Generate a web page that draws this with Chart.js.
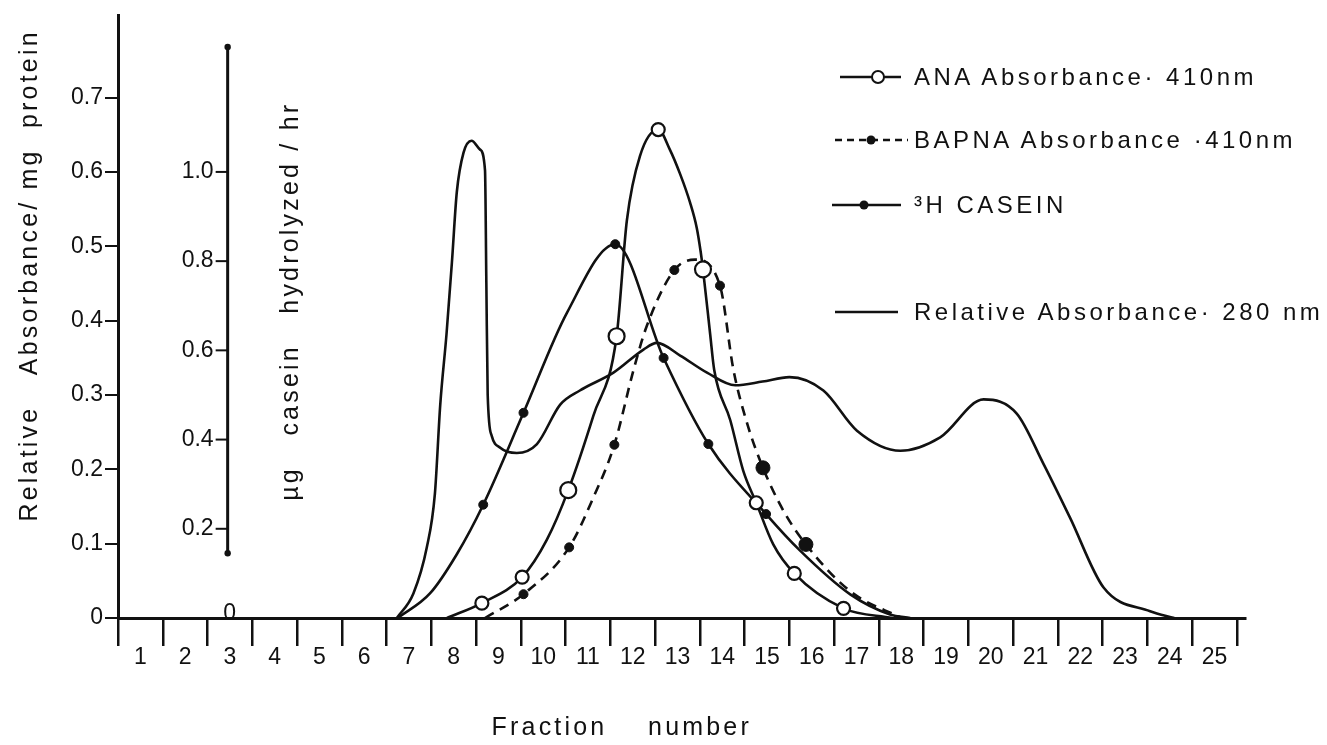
<!DOCTYPE html>
<html>
<head>
<meta charset="utf-8">
<script src="https://cdn.jsdelivr.net/npm/chart.js@4"></script>
<style>
  body { margin: 0; background: #fff; }
  #wrap { position: relative; width: 1327px; height: 745px; }
  #legend { position: absolute; left: 830px; top: 0; font-family: "Liberation Sans", Arial, sans-serif; font-size: 24px; letter-spacing: 3.5px; color: #111; }
  #legend .row { position: absolute; left: 0; height: 30px; display: flex; align-items: center; white-space: nowrap; }
  #legend svg { flex: none; }
</style>
</head>
<body>
<div id="wrap">
  <canvas id="chart" width="1327" height="745"></canvas>
  <div id="legend"></div>
</div>
<script>
const ink = '#111';
const family = '"Liberation Sans", Arial, sans-serif';

// x axis: fraction numbers, y axes: absorbance and casein hydrolyzed
const fractions = [1, 2, 3, 4, 5, 6, 7, 8, 9, 10, 11, 12, 13, 14, 15, 16, 17, 18, 19, 20, 21, 22, 23, 24, 25];
const absTicks = [0, 0.1, 0.2, 0.3, 0.4, 0.5, 0.6, 0.7];
const caseinTicks = [0.2, 0.4, 0.6, 0.8, 1.0];

// ANA absorbance at 410 nm (dots: 0 = curve only, 1 = measured, 2 = large marker)
const anaX = [7.85, 8.63, 9.53, 10.08, 10.56, 11.12, 11.64, 11.87, 12.16, 12.57, 12.83, 13.06, 13.28, 13.43, 13.52, 13.57, 13.73, 13.82, 14.18, 14.47, 14.76, 15.14, 15.61, 16.71, 17.8];
const anaY = [0, 0.020, 0.055, 0.105, 0.172, 0.272, 0.379, 0.535, 0.621, 0.657, 0.630, 0.597, 0.559, 0.525, 0.492, 0.469, 0.382, 0.334, 0.266, 0.198, 0.155, 0.099, 0.060, 0.013, 0];
const anaDots = [0, 1, 1, 0, 2, 0, 2, 0, 0, 1, 0, 0, 0, 0, 0, 2, 0, 0, 0, 0, 1, 0, 1, 1, 0];

// BAPNA absorbance at 410 nm
const bapnaX = [8.7, 9.56, 10.58, 11.12, 11.59, 12.02, 12.31, 12.93, 13.39, 13.95, 14.25, 14.55, 14.91, 15.37, 15.87, 16.86, 18.0];
const bapnaY = [0, 0.032, 0.095, 0.162, 0.233, 0.334, 0.392, 0.468, 0.482, 0.447, 0.334, 0.263, 0.202, 0.144, 0.099, 0.036, 0];
const bapnaDots = [0, 1, 1, 0, 1, 0, 0, 1, 0, 1, 0, 0, 2, 0, 2, 0, 0];

// 3H casein, µg casein hydrolyzed / hr
const caseinX = [6.75, 7.47, 8.07, 8.66, 9.56, 10.53, 11.61, 12.69, 13.69, 14.98, 15.74, 16.86, 17.75, 18.2];
const caseinY = [0, 0.055, 0.143, 0.254, 0.460, 0.684, 0.838, 0.583, 0.390, 0.233, 0.151, 0.053, 0.008, 0];
const caseinDots = [0, 0, 0, 1, 1, 0, 1, 1, 1, 1, 0, 0, 0, 0];

// relative absorbance at 280 nm
const a280X = [6.73, 7.10, 7.40, 7.58, 7.70, 7.84, 7.96, 8.07, 8.22, 8.40, 8.59, 8.70, 8.73, 8.76, 8.85, 9.04, 9.41, 9.86, 10.38, 10.82, 11.57, 12.24, 12.54, 13.06, 13.66, 14.29, 14.90, 15.50, 16.26, 17.01, 17.98, 18.87, 19.84, 20.58, 21.18, 21.77, 22.52, 23.56, 24.10];
const a280Y = [0, 0.033, 0.095, 0.167, 0.287, 0.382, 0.478, 0.573, 0.626, 0.642, 0.630, 0.602, 0.450, 0.300, 0.245, 0.229, 0.222, 0.234, 0.287, 0.306, 0.330, 0.361, 0.370, 0.353, 0.330, 0.313, 0.318, 0.324, 0.306, 0.252, 0.225, 0.243, 0.294, 0.275, 0.207, 0.135, 0.041, 0.009, 0];

const seriesNames = ['ANA Absorbance· 410nm', 'BAPNA Absorbance ·410nm', '³H  CASEIN', 'Relative Absorbance· 280 nm'];

// scale ranges; casein 1.0 sits level with absorbance 0.6
const absMax = 0.81;
const caseinPerAbs = 1.0 / 0.6;
const xMin = 0.5, xMax = 25.68;
const caseinAxisAt = 2.95;           // fraction position of the casein axis
const caseinAxisRange = [0.145, 1.28];

const zip = (xs, ys) => xs.map((x, i) => ({ x: x, y: ys[i] }));
const font = size => ({ family: family, size: size });

// casein axis (against the hidden y2 scale) and the spaced-out axis titles
const caseinAxis = {
  id: 'caseinAxis',
  afterDraw(chart) {
    const { ctx, scales: { x, y2 }, chartArea } = chart;
    const px = x.getPixelForValue(caseinAxisAt);
    const top = y2.getPixelForValue(caseinAxisRange[1]);
    const bottom = y2.getPixelForValue(caseinAxisRange[0]);
    ctx.save();
    ctx.strokeStyle = ink;
    ctx.fillStyle = ink;
    ctx.lineWidth = 3;
    ctx.beginPath();
    ctx.moveTo(px, top);
    ctx.lineTo(px, bottom);
    ctx.stroke();
    [top, bottom].forEach(py => {
      ctx.beginPath();
      ctx.arc(px, py, 3.2, 0, Math.PI * 2);
      ctx.fill();
    });
    ctx.font = '23px ' + family;
    ctx.textAlign = 'right';
    ctx.textBaseline = 'middle';
    ctx.lineWidth = 2;
    caseinTicks.forEach(v => {
      const py = y2.getPixelForValue(v);
      ctx.beginPath();
      ctx.moveTo(px - 12, py);
      ctx.lineTo(px, py);
      ctx.stroke();
      ctx.fillText(v.toFixed(1), px - 14, py);
    });
    ctx.textAlign = 'center';
    ctx.fillText('0', px + 2, y2.getPixelForValue(0) - 4);

    ctx.font = '25px ' + family;
    ctx.letterSpacing = '3.2px';
    ctx.textBaseline = 'alphabetic';

    // x title
    ctx.fillText('Fraction    number', chartArea.left + chartArea.width * 0.447, 735);

    // left title
    ctx.save();
    ctx.translate(37, chartArea.top + chartArea.height * 0.431);
    ctx.rotate(-Math.PI / 2);
    ctx.fillText('Relative   Absorbance/ mg  protein', 0, 0);
    ctx.restore();

    // casein title
    ctx.translate(px + 70, chartArea.top + chartArea.height * 0.474);
    ctx.rotate(-Math.PI / 2);
    ctx.fillText('µg   casein   hydrolyzed / hr', 0, 0);
    ctx.restore();
  }
};

const dotSize = (dots, small, large) => dots.map(d => d === 2 ? large : d === 1 ? small : 0);

const chart = new Chart(document.getElementById('chart'), {
  type: 'line',
  data: {
    datasets: [
      {
        label: seriesNames[0],
        data: zip(anaX, anaY),
        yAxisID: 'y',
        borderColor: ink,
        borderWidth: 2.6,
        pointRadius: dotSize(anaDots, 6.5, 8),
        pointBackgroundColor: '#fff',
        pointBorderColor: ink,
        pointBorderWidth: 2.2
      },
      {
        label: seriesNames[1],
        data: zip(bapnaX, bapnaY),
        yAxisID: 'y',
        borderColor: ink,
        borderWidth: 2.6,
        borderDash: [10, 7],
        pointRadius: dotSize(bapnaDots, 4.5, 7),
        pointBackgroundColor: ink,
        pointBorderColor: ink,
        pointBorderWidth: 1
      },
      {
        label: seriesNames[2],
        data: zip(caseinX, caseinY),
        yAxisID: 'y2',
        borderColor: ink,
        borderWidth: 2.6,
        pointRadius: dotSize(caseinDots, 4.5, 7),
        pointBackgroundColor: ink,
        pointBorderColor: ink,
        pointBorderWidth: 1
      },
      {
        label: seriesNames[3],
        data: zip(a280X, a280Y),
        yAxisID: 'y',
        borderColor: ink,
        borderWidth: 2.6,
        pointRadius: 0
      }
    ]
  },
  options: {
    responsive: false,
    animation: false,
    events: [],
    cubicInterpolationMode: 'monotone',
    layout: { padding: { left: 0, top: 10, right: 1327 - 1245, bottom: 0 } },
    plugins: { legend: { display: false }, tooltip: { enabled: false } },
    scales: {
      x: {
        type: 'linear',
        min: xMin,
        max: xMax,
        afterBuildTicks: s => { s.ticks = fractions.map(v => ({ value: v })); },
        afterFit: s => { s.height = 745 - 618; },
        grid: { offset: true, drawOnChartArea: false, tickLength: 28, color: ink, lineWidth: 2.5 },
        border: { color: ink, width: 3 },
        ticks: { color: ink, font: font(23), padding: -2, autoSkip: false, maxRotation: 0, callback: v => String(v) }
      },
      y: {
        type: 'linear',
        position: 'left',
        min: 0,
        max: absMax,
        afterBuildTicks: s => { s.ticks = absTicks.map(v => ({ value: v })); },
        afterFit: s => { s.width = 118; },
        grid: { drawOnChartArea: false, tickLength: 13, color: ink, lineWidth: 2 },
        border: { color: ink, width: 3 },
        ticks: { color: ink, font: font(23), padding: 2, callback: v => v === 0 ? '0' : v.toFixed(1) }
      },
      y2: {
        type: 'linear',
        display: false,
        min: 0,
        max: absMax * caseinPerAbs
      }
    }
  },
  plugins: [caseinAxis]
});

// legend samples: line, dash pattern and marker of each series
const samples = [
  '<line x1="10" y1="15" x2="71" y2="15" stroke="#111" stroke-width="2.4"/><circle cx="48" cy="15" r="6" fill="#fff" stroke="#111" stroke-width="2"/>',
  '<line x1="5" y1="15" x2="78" y2="15" stroke="#111" stroke-width="2.4" stroke-dasharray="7 5"/><circle cx="41" cy="15" r="4.5" fill="#111"/>',
  '<line x1="2" y1="15" x2="71" y2="15" stroke="#111" stroke-width="2.4"/><circle cx="34" cy="15" r="4.5" fill="#111"/>',
  '<line x1="5" y1="15" x2="68" y2="15" stroke="#111" stroke-width="2.4"/>'
];
const rowCentres = [77, 140, 205, 312];
const legend = document.getElementById('legend');
chart.data.datasets.forEach((ds, i) => {
  const row = document.createElement('div');
  row.className = 'row';
  row.style.top = (rowCentres[i] - 15) + 'px';
  row.innerHTML = '<svg width="84" height="30">' + samples[i] + '</svg><span>' + ds.label + '</span>';
  legend.appendChild(row);
});
</script>
</body>
</html>
